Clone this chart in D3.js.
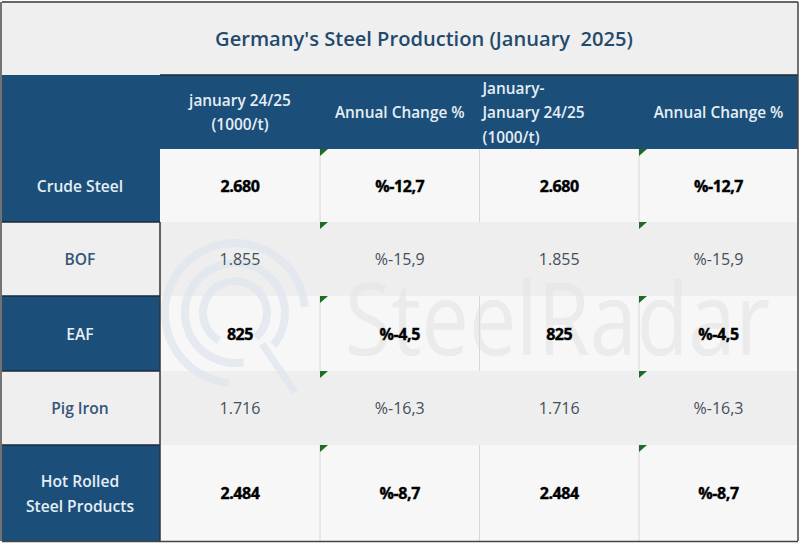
<!DOCTYPE html>
<html>
<head>
<meta charset="utf-8">
<script src="https://cdn.jsdelivr.net/npm/d3@7"></script>
<style>
html, body { margin: 0; padding: 0; background: #fff; }
svg { display: block; }
text { font-family: "Open Sans", sans-serif; }
</style>
</head>
<body>
<div id="chart"></div>
<script>
// table contents
var title = "Germany's Steel Production (January  2025)";
var columns = ["label", "month", "monthChange", "ytd", "ytdChange"];
var headers = [["january 24/25", "(1000/t)"], ["Annual Change %"], ["January-", "January 24/25", "(1000/t)"], ["Annual Change %"]];
var products = ["Crude Steel", "BOF", "EAF", "Pig Iron", "Hot Rolled|Steel Products"];
var monthValues = ["2.680", "1.855", "825", "1.716", "2.484"];
var monthChanges = ["%-12,7", "%-15,9", "%-4,5", "%-16,3", "%-8,7"];
var ytdValues = ["2.680", "1.855", "825", "1.716", "2.484"];
var ytdChanges = ["%-12,7", "%-15,9", "%-4,5", "%-16,3", "%-8,7"];

var width = 800, height = 544;
var navy = "#1c4e7a", dark = "#1b2a38";

var svg = d3.select("#chart").append("svg").attr("width", width).attr("height", height);

var x = d3.scaleOrdinal().domain(columns.concat("end")).range([2, 160, 320, 479.5, 639, 798]);
var y = d3.scaleOrdinal().domain(["title", "head"].concat(products, "end")).range([3, 75, 149, 222, 296, 371, 445, 541]);
function nextKey(list, k) { return list[list.indexOf(k) + 1]; }
var rowKeys = y.domain();
function rowMid(k) { return (y(k) + y(nextKey(rowKeys, k))) / 2; }

svg.append("rect").attr("width", width).attr("height", height).attr("fill", "#fff");

// title band
svg.append("rect").attr("x", x("label")).attr("y", y("title")).attr("width", 796).attr("height", 72).attr("fill", "#efefef");
svg.append("text").attr("x", 424).attr("y", 46).attr("text-anchor", "middle")
  .attr("font-size", 20.1).attr("font-weight", 600).attr("fill", "#234a6d").style("white-space", "pre").text(title);

// header band
svg.append("rect").attr("x", x("label")).attr("y", y("head")).attr("width", 796).attr("height", 74).attr("fill", navy);

// body rows
products.forEach(function (p, i) {
  svg.append("rect").attr("x", x("month")).attr("y", y(p)).attr("width", x("end") - x("month"))
    .attr("height", y(nextKey(rowKeys, p)) - y(p)).attr("fill", i % 2 ? "#eeeeee" : "#f7f7f7");
});

// watermark under the text
var wmColor = "#dfe6ee";
var arc = d3.arc();
var deg = Math.PI / 180;
[[70, 8, -175, 85], [50, 8, -190, 130], [32, 8, -150, 140]].forEach(function (a) {
  svg.append("path").attr("transform", "translate(235,313)")
    .attr("d", arc({ innerRadius: a[0] - a[1] / 2, outerRadius: a[0] + a[1] / 2, startAngle: a[2] * deg, endAngle: a[3] * deg }))
    .attr("fill", wmColor).attr("opacity", 0.75);
});
svg.append("path").attr("d", "M262,344L295,392").attr("stroke", wmColor).attr("stroke-width", 7).attr("opacity", 0.75);
svg.append("text").attr("x", 345).attr("y", 355).attr("font-size", 100).attr("fill", "#e6e6e6").attr("opacity", 0.7)
  .attr("textLength", 425).attr("lengthAdjust", "spacingAndGlyphs").text("SteelRadar");

// faint column dividers on white rows
["monthChange", "ytd", "ytdChange"].forEach(function (c) {
  products.forEach(function (p, i) {
    if (i % 2) return;
    svg.append("line").attr("x1", x(c)).attr("x2", x(c)).attr("y1", y(p)).attr("y2", y(nextKey(rowKeys, p)))
      .attr("stroke", "#d8d8d8");
  });
});

// product label column
products.forEach(function (p, i) {
  var h = y(nextKey(rowKeys, p)) - y(p);
  svg.append("rect").attr("x", x("label")).attr("y", y(p)).attr("width", x("month") - x("label")).attr("height", h)
    .attr("fill", i % 2 ? "#efefef" : navy);
  var lines = p.split("|");
  lines.forEach(function (l, j) {
    svg.append("text").attr("x", 80).attr("y", rowMid(p) + 6 + (j - (lines.length - 1) / 2) * 25)
      .attr("text-anchor", "middle").attr("font-size", 15.6).attr("font-weight", 600)
      .attr("fill", i % 2 ? "#34557a" : "#e4eef5").text(l);
  });
});

// header labels
var headerAnchor = [["month", "middle"], ["monthChange", "middle"], ["ytd", "start"], ["ytdChange", "middle"]];
headers.forEach(function (lines, i) {
  var c = headerAnchor[i][0];
  var anchor = headerAnchor[i][1];
  var px = anchor === "middle" ? (x(c) + x(nextKey(columns.concat("end"), c))) / 2 : x(c) + 3;
  lines.forEach(function (l, j) {
    svg.append("text").attr("x", px).attr("y", 118 + (j - (lines.length - 1) / 2) * 24.5)
      .attr("text-anchor", anchor).attr("font-size", 15.4).attr("font-weight", 600).attr("fill", "#e4eef5").text(l);
  });
});

// values
var valueCols = [["month", monthValues], ["monthChange", monthChanges], ["ytd", ytdValues], ["ytdChange", ytdChanges]];
valueCols.forEach(function (vc) {
  var cx = (x(vc[0]) + x(nextKey(columns.concat("end"), vc[0]))) / 2;
  vc[1].forEach(function (v, i) {
    var bold = i % 2 === 0;
    svg.append("text").attr("x", cx).attr("y", rowMid(products[i]) + 6).attr("text-anchor", "middle")
      .attr("font-size", bold ? 16 : 16).attr("font-weight", bold ? 700 : 400).attr("fill", bold ? "#000" : "#444f5a")
      .attr("stroke", bold ? "#000" : "none").attr("stroke-width", bold ? 0.4 : 0).attr("letter-spacing", bold ? -0.4 : 0).text(v);
  });
});

// green error triangles at the top left of the change cells
["monthChange", "ytdChange"].forEach(function (c) {
  products.forEach(function (p) {
    svg.append("path").attr("transform", "translate(" + x(c) + "," + y(p) + ")").attr("d", "M0,0H8L0,7Z").attr("fill", "#1d6b24");
  });
});

// dark rules
var rule = [[2, 798, 2, 2, "#333"], [160, 798, 75, 75, dark], [2, 160, 222, 222, dark], [2, 160, 296, 296, dark], [2, 160, 371, 371, dark], [2, 160, 445, 445, dark], [2, 798, 541.5, 541.5, "#444"], [160, 160, 222, 541, "#333"], [1, 1, 2, 541, "#444"], [798, 798, 2, 541, "#444"]];
svg.selectAll("line.rule").data(rule).enter().append("line").attr("class", "rule")
  .attr("x1", function (d) { return d[0]; }).attr("x2", function (d) { return d[1]; })
  .attr("y1", function (d) { return d[2]; }).attr("y2", function (d) { return d[3]; })
  .attr("stroke", function (d) { return d[4]; }).attr("stroke-width", 1.5);
</script>
</body>
</html>
